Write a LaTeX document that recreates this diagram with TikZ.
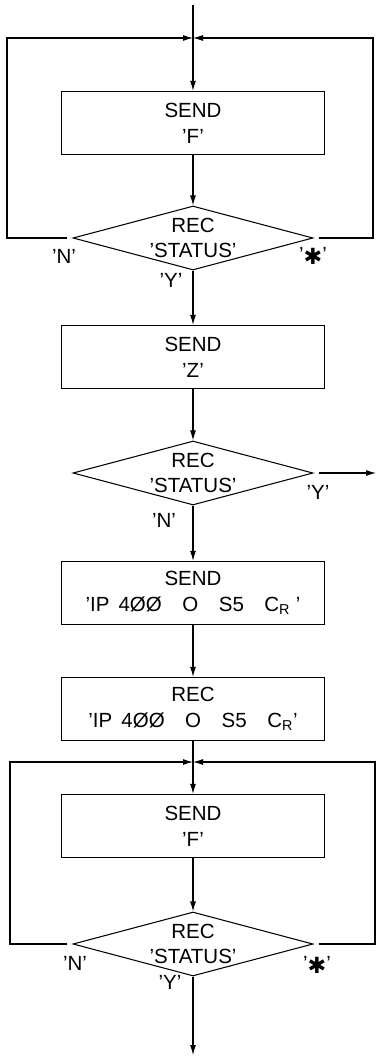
\documentclass[tikz,border=0pt]{standalone}
\usepackage{fontspec}
\setmainfont{Liberation Sans}
\newfontfamily\symbfont{DejaVu Sans}
\usetikzlibrary{shapes.geometric,arrows.meta}

\newcommand{\bigast}{\raisebox{-0.35ex}{\symbfont\fontsize{19}{19}\selectfont ✱}}

\begin{document}
\begin{tikzpicture}[x=0.3mm,y=-0.3mm,line width=0.9pt,
    font=\fontsize{17.5}{22}\selectfont,
    box/.style={draw,rectangle,minimum width=79mm,minimum height=19mm,align=center,inner sep=0pt},
    test/.style={draw,diamond,aspect=3.75,minimum width=72mm,minimum height=19.2mm,align=center,inner sep=0pt},
    flow/.style={-{Latex[length=3mm,width=1.8mm]}},
    lbl/.style={inner sep=1pt}]
  \useasboundingbox (0,0) rectangle (376,1061);

  % first polling loop
  \coordinate (top) at (193,5);
  \coordinate (j1) at (193,38);
  \coordinate (l1) at (7,38);
  \coordinate (r1) at (373,38);
  \node[box] (send1) at (193,123) {SEND\\'F'};
  \node[test] (rec1) at (193,238) {REC\\'STATUS'};
  \node[lbl] (n1) at (64,256) {'N'};
  \node[lbl] (s1) at (313,256) {'\bigast'};
  \node[lbl] (y1) at (171,280) {'Y'};
  \draw[flow] (top) -- (send1);
  \draw[flow] (send1) -- (rec1);
  \draw[flow,shorten <=1.5mm] (rec1.west) -| (l1) -- (j1);
  \draw[flow,shorten <=1.5mm] (rec1.east) -| (r1) -- (j1);

  \node[box] (send2) at (193,357) {SEND\\'Z'};
  \node[test] (rec2) at (193,473) {REC\\'STATUS'};
  \coordinate (out) at (376,473);
  \node[lbl] (y2) at (318,492) {'Y'};
  \node[lbl] (n2) at (164,520) {'N'};
  \draw[flow] (rec1) -- (send2);
  \draw[flow] (send2) -- (rec2);
  \draw[flow,shorten <=1.5mm] (rec2.east) -- (out);

  \node[box] (send3) at (193,593) {SEND\\'IP\, 4ØØ\quad O\quad S5\quad C\textsubscript{R} '};
  \node[box] (rec3) at (193,709) {REC\\'IP\, 4ØØ\quad O\quad S5\quad C\textsubscript{R}'};
  \draw[flow] (rec2) -- (send3);
  \draw[flow] (send3) -- (rec3);

  % second polling loop
  \coordinate (j2) at (193,762);
  \coordinate (l2) at (10,762);
  \coordinate (r2) at (375,762);
  \coordinate (end) at (193,1055);
  \node[box] (send4) at (193,826) {SEND\\'F'};
  \node[test] (rec4) at (193,944) {REC\\'STATUS'};
  \node[lbl] (n4) at (75,963) {'N'};
  \node[lbl] (s4) at (317,965) {'\bigast'};
  \node[lbl] (y4) at (170,982) {'Y'};
  \draw[flow] (rec3) -- (send4);
  \draw[flow] (send4) -- (rec4);
  \draw[flow,shorten <=1.5mm] (rec4.west) -| (l2) -- (j2);
  \draw[flow,shorten <=1.5mm] (rec4.east) -| (r2) -- (j2);
  \draw[flow] (rec4) -- (end);
\end{tikzpicture}
\end{document}
